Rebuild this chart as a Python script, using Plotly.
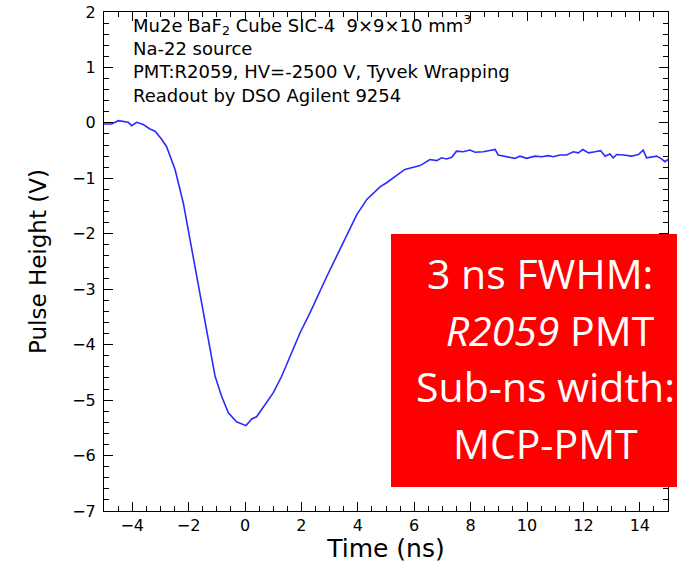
import plotly.graph_objects as go

time_ns = [-5.0, -4.73, -4.49, -4.32, -4.14, -4.02, -3.84, -3.61, -3.37, -3.19, -2.95, -2.78,
           -2.48, -2.19, -1.95, -1.71, -1.48, -1.30, -1.06, -0.83, -0.59, -0.30, -0.10, 0.035,
           0.24, 0.41, 1.0, 1.30, 1.95, 2.30, 2.90, 3.25, 3.96, 4.32, 4.80, 5.02, 5.26, 5.67,
           6.21, 6.44, 6.56, 6.80, 6.97, 7.15, 7.33, 7.50, 7.74, 7.98, 8.16, 8.45, 8.69, 8.87,
           8.98, 9.16, 9.40, 9.57, 9.75, 9.99, 10.28, 10.52, 10.76, 10.93, 11.17, 11.41, 11.64,
           11.82, 11.98, 12.18, 12.41, 12.61, 12.77, 12.94, 13.06, 13.18, 13.42, 13.71, 13.95,
           14.12, 14.24, 14.42, 14.60, 14.77, 14.89, 15.0]
pulse_v = [-0.02, -0.02, 0.04, 0.02, 0.01, -0.05, 0.01, -0.03, -0.11, -0.15, -0.30, -0.43,
           -0.84, -1.44, -2.11, -2.77, -3.43, -3.97, -4.57, -4.93, -5.23, -5.39, -5.43, -5.46,
           -5.34, -5.30, -4.87, -4.57, -3.79, -3.43, -2.77, -2.41, -1.66, -1.38, -1.15, -1.08,
           -0.99, -0.84, -0.77, -0.69, -0.66, -0.68, -0.63, -0.65, -0.62, -0.51, -0.52, -0.49,
           -0.53, -0.52, -0.50, -0.48, -0.58, -0.60, -0.62, -0.64, -0.60, -0.64, -0.60, -0.61,
           -0.59, -0.61, -0.58, -0.58, -0.52, -0.54, -0.48, -0.54, -0.52, -0.50, -0.60, -0.56,
           -0.63, -0.57, -0.58, -0.60, -0.57, -0.49, -0.63, -0.62, -0.60, -0.65, -0.70, -0.66]

info_lines = [
    "Mu2e BaF<sub>2</sub> Cube SIC-4\u00a0 9×9×10 mm<sup>3</sup>",
    "Na-22 source",
    "PMT:R2059, HV=-2500 V, Tyvek Wrapping",
    "Readout by DSO Agilent 9254",
]
box_lines = ["3 ns FWHM:", "\u00a0<i>R2059</i> PMT", "Sub-ns width:", "MCP-PMT"]

W, H = 677, 563
L, R, T, B = 104, 9, 12, 52
pw, ph = W - L - R, H - T - B

def px_x(p):
    return (p - L) / pw

def px_y(p):
    return (H - B - p) / ph

fig = go.Figure()
fig.add_trace(go.Scatter(x=time_ns, y=pulse_v, mode="lines",
                         line=dict(color="#2b2bff", width=1.6), showlegend=False))

font_main = "DejaVu Sans"
axis_common = dict(showgrid=False, zeroline=False, showline=True, linecolor="black",
                   linewidth=1, mirror="allticks", ticks="inside", ticklen=9, tickwidth=1,
                   tickcolor="black", automargin=False,
                   tickfont=dict(family=font_main, size=16, color="black"))

fig.update_xaxes(range=[-5, 15], dtick=2, tick0=0,
                 minor=dict(dtick=0.5, ticks="inside", ticklen=5, tickcolor="black"),
                 title=dict(text="Time (ns)", font=dict(family=font_main, size=25, color="black"),
                            standoff=7),
                 **axis_common)
fig.update_yaxes(range=[-7, 2], dtick=1, tick0=0,
                 minor=dict(dtick=0.2, ticks="inside", ticklen=5, tickcolor="black"),
                 ticklabelstandoff=4,
                 title=dict(text="Pulse Height (V)", font=dict(family=font_main, size=23, color="black"),
                            standoff=19),
                 **axis_common)

fig.add_annotation(text="<br>".join(info_lines), xref="paper", yref="paper",
                   x=px_x(131), y=px_y(10), xanchor="left", yanchor="top", align="left",
                   showarrow=False, font=dict(family=font_main, size=18, color="black"))

fig.add_shape(type="rect", xref="paper", yref="paper", x0=px_x(391), x1=px_x(680),
              y0=px_y(487), y1=px_y(234), fillcolor="#ff0000", line=dict(width=0), layer="above")

box_x = [539.5, 545, 545, 545]
box_y = [272.5, 330, 386, 443]
for txt, xx, yy in zip(box_lines, box_x, box_y):
    fig.add_annotation(text=txt, xref="paper", yref="paper", x=px_x(xx), y=px_y(yy),
                       xanchor="center", yanchor="middle", showarrow=False,
                       font=dict(family="Open Sans", size=41, color="white"))

fig.update_layout(width=W, height=H, margin=dict(l=L, r=R, t=T, b=B),
                  plot_bgcolor="white", paper_bgcolor="white")

fig.write_html("out.html", config={"displayModeBar": False},
               post_script="document.body.style.margin='0';document.body.style.overflow='hidden';")
